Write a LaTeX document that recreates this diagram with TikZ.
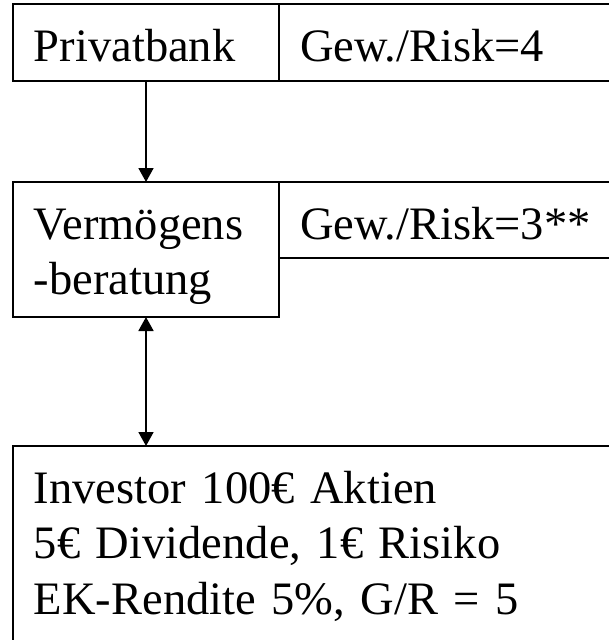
\documentclass[tikz,border=0pt]{standalone}
\usepackage{fontspec}
\setmainfont{Liberation Serif}
\usetikzlibrary{arrows.meta}

\tikzset{
  box/.style={draw, line width=2pt, anchor=north west, outer sep=0pt,
    inner xsep=21pt, inner ysep=0pt, align=left, text height=57pt,
    font=\fontsize{46.5}{55.5}\selectfont},
  flow/.style={line width=1.8pt, >={Triangle[length=14pt,width=15pt]}}
}

\begin{document}
\begin{tikzpicture}[x=1pt,y=-1pt]
\useasboundingbox (0,0) rectangle (609,640);
  \node[box, text width=224pt, text depth=20pt]  (bank)      at (13,4)   {Privatbank};
  \node[box, text width=358pt, text depth=20pt]  (bankrisk)  at (279,4)  {Gew./Risk=4};
  \node[box, text width=224pt, text depth=78pt]  (beratung)  at (13,182) {Vermögens\\-beratung};
  \node[box, text width=358pt, text depth=19pt]  (beratrisk) at (279,182) {Gew./Risk=3**};
  \node[box, text width=658pt, text depth=300pt] (investor)  at (13,446) {Investor 100€ Aktien\\5€ Dividende, 1€ Risiko\\EK-Rendite 5\%, G/R = 5};

  \path[flow, ->]
        (bank) edge (beratung);
  \path[flow, <->]
        (beratung.south) edge (beratung.south |- investor.north);
\end{tikzpicture}
\end{document}
